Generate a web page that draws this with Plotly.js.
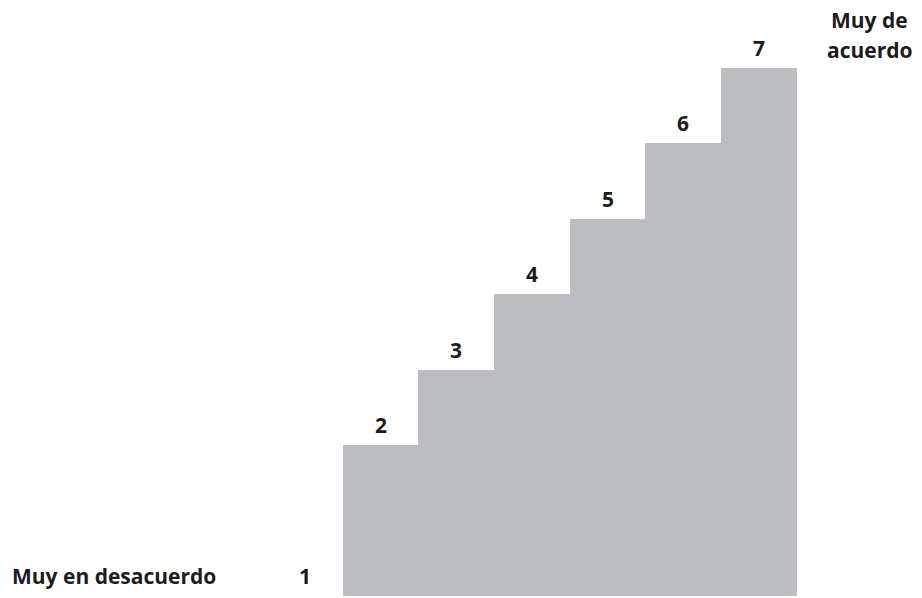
<!DOCTYPE html>
<html>
<head>
<meta charset="utf-8">
<script src="https://cdn.plot.ly/plotly-3.0.1.min.js"></script>
<style>html,body{margin:0;padding:0;background:#fff;}#chart{width:922px;height:598px;}</style>
</head>
<body>
<div id="chart"></div>
<script>
// Scale points (categories) and step heights
const categories = [1, 2, 3, 4, 5, 6, 7];
const stepHeights = [0, 2, 3, 4, 5, 6, 7];
const tickLabels = ["1", "2", "3", "4", "5", "6", "7"];
const lowEndLabel = "Muy en desacuerdo";
const highEndLines = ["Muy de", "acuerdo"];

const barColor = "#bcbdc1";
const textColor = "#1e1b1c";
const fontFam = "'Open Sans', 'Noto Sans', sans-serif";
const fs = 21;

const trace = {
  type: "bar",
  x: categories,
  y: stepHeights,
  marker: { color: barColor, line: { width: 0 } },
  hoverinfo: "skip"
};

const annotations = categories.map((c, i) => ({
  x: c, y: stepHeights[i], xref: "x", yref: "y",
  text: "<b>" + tickLabels[i] + "</b>",
  showarrow: false, xanchor: "center", yanchor: "bottom", yshift: 4,
  font: { family: fontFam, size: fs, color: textColor }
}));

annotations.push({
  x: 0.011, y: 0, xref: "paper", yref: "y",
  text: "<b>" + lowEndLabel + "</b>",
  showarrow: false, xanchor: "left", yanchor: "bottom", yshift: 4,
  font: { family: fontFam, size: fs, color: textColor }
});
highEndLines.forEach((t, i) => {
  annotations.push({
    x: 0.9436, y: 1, xref: "paper", yref: "paper",
    text: "<b>" + t + "</b>",
    showarrow: false, xanchor: "center", yanchor: "top", yshift: -4 - i * 30,
    font: { family: fontFam, size: fs, color: textColor }
  });
});

const layout = {
  width: 922, height: 598,
  margin: { l: 0, r: 0, t: 0, b: 0 },
  paper_bgcolor: "#ffffff", plot_bgcolor: "#ffffff",
  bargap: 0,
  showlegend: false,
  xaxis: { range: [-3.03, 9.154], visible: false, fixedrange: true },
  yaxis: { range: [-0.0265, 7.901], visible: false, fixedrange: true },
  annotations: annotations
};

Plotly.newPlot("chart", [trace], layout, { displayModeBar: false, staticPlot: true });
</script>
</body>
</html>
